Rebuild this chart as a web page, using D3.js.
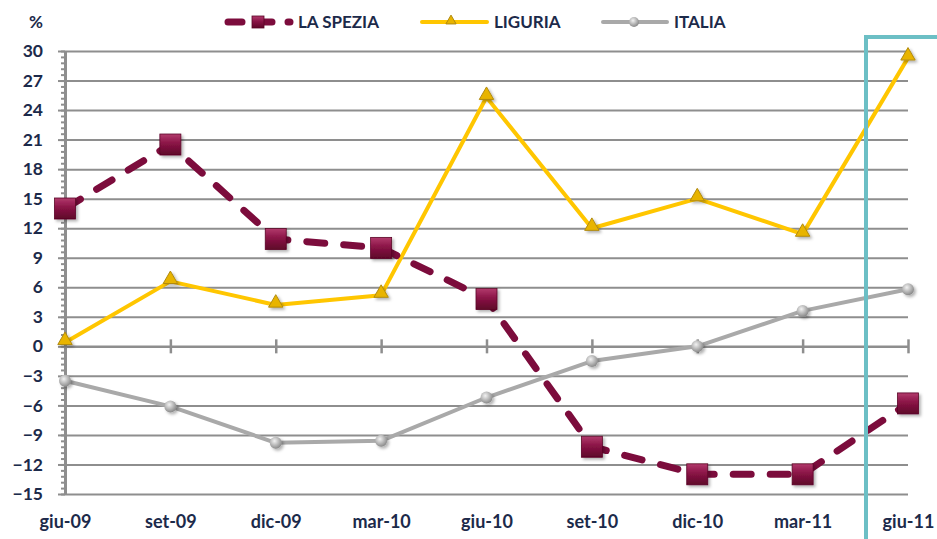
<!DOCTYPE html>
<html>
<head>
<meta charset="utf-8">
<script src="https://cdn.jsdelivr.net/npm/d3@7"></script>
<style>
  body { margin: 0; background: #fff; overflow: hidden; }
  svg { display: block; }
  text { font-family: Lato, "Open Sans", sans-serif; font-weight: bold; }
</style>
</head>
<body>
<div id="plot"></div>
<script>
// chart data
const categories = ["giu-09", "set-09", "dic-09", "mar-10", "giu-10", "set-10", "dic-10", "mar-11", "giu-11"];
const laSpezia = [14.0, 20.5, 10.9, 10.0, 4.8, -10.2, -13.0, -13.0, -5.8];
const liguria = [0.4, 6.6, 4.2, 5.2, 25.3, 12.0, 15.0, 11.4, 29.3];
const italia = [-3.5, -6.1, -9.8, -9.6, -5.2, -1.5, 0.0, 3.6, 5.8];
const yTicks = [-15, -12, -9, -6, -3, 0, 3, 6, 9, 12, 15, 18, 21, 24, 27, 30];
const seriesNames = ["LA SPEZIA", "LIGURIA", "ITALIA"];

const width = 937;
const height = 539;
const margin = {top: 51, right: 29, bottom: 45, left: 65};
const innerWidth = width - margin.left - margin.right;
const innerHeight = height - margin.top - margin.bottom;

const textColor = "#1c2a4a";
const gridColor = "#8e8e8e";

const svg = d3.select("div#plot")
  .append("svg")
    .attr("width", width)
    .attr("height", height);

const defs = svg.append("defs");

// bevelled square marker
const sq = defs.append("linearGradient").attr("id", "sqGrad")
    .attr("x1", 0).attr("y1", 0).attr("x2", 0).attr("y2", 1);
sq.append("stop").attr("offset", "0%").attr("stop-color", "#b23a6c");
sq.append("stop").attr("offset", "45%").attr("stop-color", "#8a1446");
sq.append("stop").attr("offset", "100%").attr("stop-color", "#5e0629");

const ball = defs.append("radialGradient").attr("id", "ballGrad")
    .attr("cx", "40%").attr("cy", "35%").attr("r", "65%");
ball.append("stop").attr("offset", "0%").attr("stop-color", "#f2f2f2");
ball.append("stop").attr("offset", "100%").attr("stop-color", "#8a8a8a");

const shadow = defs.append("filter").attr("id", "shadow")
    .attr("x", "-50%").attr("y", "-50%").attr("width", "200%").attr("height", "200%");
shadow.append("feDropShadow").attr("dx", 2).attr("dy", 2)
    .attr("stdDeviation", 1.5).attr("flood-color", "#000").attr("flood-opacity", 0.3);

const g = svg.append("g").attr("transform", `translate(${margin.left}, ${margin.top})`);

const xScale = d3.scalePoint()
    .domain(categories)
    .range([0, innerWidth]);

const yScale = d3.scaleLinear()
    .domain([-15, 30])
    .range([innerHeight, 0]);

// gridlines
g.append("g")
    .call(d3.axisLeft(yScale).tickValues(yTicks.filter(d => d !== 0)).tickSize(-innerWidth).tickFormat(""))
    .call(a => a.select(".domain").remove())
    .call(a => a.selectAll("text").remove())
    .selectAll("line")
      .attr("stroke", gridColor)
      .attr("stroke-width", 2);

// minor ticks on y axis
const minorTicks = d3.range(0, 76).map(i => -15 + i * 0.6);
g.append("g")
    .call(d3.axisLeft(yScale).tickValues(minorTicks).tickSize(4).tickFormat(""))
    .call(a => a.select(".domain").remove())
    .call(a => a.selectAll("text").remove())
    .selectAll("line")
      .attr("stroke", gridColor)
      .attr("stroke-width", 2);

// y axis with labels
const yAxis = g.append("g")
    .call(d3.axisLeft(yScale).tickValues(yTicks).tickSize(7).tickPadding(15).tickSizeOuter(0));
yAxis.select(".domain").attr("stroke", gridColor).attr("stroke-width", 3);
yAxis.selectAll("line").attr("stroke", gridColor).attr("stroke-width", 2);
yAxis.selectAll("text")
    .attr("fill", textColor)
    .style("font-size", "17.5px");

// zero axis with crossing ticks
const xAxis = g.append("g")
    .attr("transform", `translate(0, ${yScale(0)})`)
    .call(d3.axisBottom(xScale).tickSize(6).tickFormat("").tickSizeOuter(0))
    .call(a => a.selectAll("text").remove());
xAxis.select(".domain").attr("stroke", gridColor).attr("stroke-width", 2.5);
xAxis.selectAll(".tick line")
    .attr("y1", -7)
    .attr("y2", 7)
    .attr("stroke", gridColor)
    .attr("stroke-width", 2.5);

// category labels at the bottom
g.append("g")
    .attr("transform", `translate(0, ${innerHeight})`)
    .call(d3.axisBottom(xScale).tickSize(0).tickPadding(21))
    .call(a => a.select(".domain").remove())
    .selectAll("text")
      .attr("fill", textColor)
      .style("font-size", "18px");

const line = d3.line()
    .x((d, i) => xScale(categories[i]))
    .y(d => yScale(d));

// ITALIA
g.append("path")
    .datum(italia)
    .attr("d", line)
    .attr("fill", "none")
    .attr("stroke", "#a9a9a9")
    .attr("stroke-width", 4)
    .attr("stroke-linejoin", "round");

// LIGURIA
g.append("path")
    .datum(liguria)
    .attr("d", line)
    .attr("fill", "none")
    .attr("stroke", "#ffc600")
    .attr("stroke-width", 4)
    .attr("stroke-linejoin", "round");

// LA SPEZIA
g.append("path")
    .datum(laSpezia)
    .attr("d", line)
    .attr("fill", "none")
    .attr("stroke", "#7c0c3c")
    .attr("stroke-width", 7)
    .attr("stroke-linecap", "round")
    .attr("stroke-dasharray", "18,19");

const tri = d3.symbol().type(d3.symbolTriangle).size(90);

function drawSquare(sel, size) {
  sel.attr("x", -size / 2).attr("y", -size / 2)
    .attr("width", size).attr("height", size)
    .attr("fill", "url(#sqGrad)")
    .attr("stroke", "#5a0626")
    .attr("stroke-width", 0.8);
}

g.selectAll(".pt-it")
  .data(italia)
  .join("circle")
    .attr("class", "pt-it")
    .attr("cx", (d, i) => xScale(categories[i]))
    .attr("cy", d => yScale(d))
    .attr("r", 6)
    .attr("fill", "url(#ballGrad)")
    .attr("filter", "url(#shadow)");

g.selectAll(".pt-li")
  .data(liguria)
  .join("path")
    .attr("class", "pt-li")
    .attr("transform", (d, i) => `translate(${xScale(categories[i])}, ${yScale(d) - 2})`)
    .attr("d", tri)
    .attr("fill", "#e8b400")
    .attr("stroke", "#b08a10")
    .attr("stroke-width", 1)
    .attr("filter", "url(#shadow)");

g.selectAll(".pt-sp")
  .data(laSpezia)
  .join("g")
    .attr("class", "pt-sp")
    .attr("transform", (d, i) => `translate(${xScale(categories[i])}, ${yScale(d)})`)
    .attr("filter", "url(#shadow)")
    .append("rect")
    .call(drawSquare, 21);

// highlight frame around the last quarter
svg.append("rect")
    .attr("x", 866)
    .attr("y", 37)
    .attr("width", 120)
    .attr("height", 600)
    .attr("fill", "none")
    .attr("stroke", "#6cbfc5")
    .attr("stroke-width", 4);

// "%" unit label
svg.append("text")
    .attr("x", 36)
    .attr("y", 28)
    .attr("text-anchor", "middle")
    .attr("fill", textColor)
    .style("font-size", "17px")
    .text("%");

// legend
const legend = svg.append("g").attr("transform", "translate(0, 22)");

legend.append("line")
    .attr("x1", 228).attr("x2", 290)
    .attr("stroke", "#7c0c3c").attr("stroke-width", 7)
    .attr("stroke-linecap", "round").attr("stroke-dasharray", "14,16");
legend.append("g").attr("transform", "translate(258, 0)")
    .append("rect").call(drawSquare, 12);
legend.append("text")
    .attr("x", 298).attr("y", 6)
    .attr("fill", textColor).style("font-size", "17px")
    .text(seriesNames[0]);

legend.append("line")
    .attr("x1", 422).attr("x2", 487)
    .attr("stroke", "#ffc600").attr("stroke-width", 4)
    .attr("stroke-linecap", "round");
legend.append("path")
    .attr("transform", "translate(451, -1)")
    .attr("d", d3.symbol().type(d3.symbolTriangle).size(45))
    .attr("fill", "#e8b400").attr("stroke", "#b08a10");
legend.append("text")
    .attr("x", 494).attr("y", 6)
    .attr("fill", textColor).style("font-size", "17px")
    .text(seriesNames[1]);

legend.append("line")
    .attr("x1", 603).attr("x2", 667)
    .attr("stroke", "#a9a9a9").attr("stroke-width", 4)
    .attr("stroke-linecap", "round");
legend.append("circle")
    .attr("cx", 634).attr("cy", 0).attr("r", 5)
    .attr("fill", "url(#ballGrad)");
legend.append("text")
    .attr("x", 674).attr("y", 6)
    .attr("fill", textColor).style("font-size", "17px")
    .text(seriesNames[2]);
</script>
</body>
</html>
